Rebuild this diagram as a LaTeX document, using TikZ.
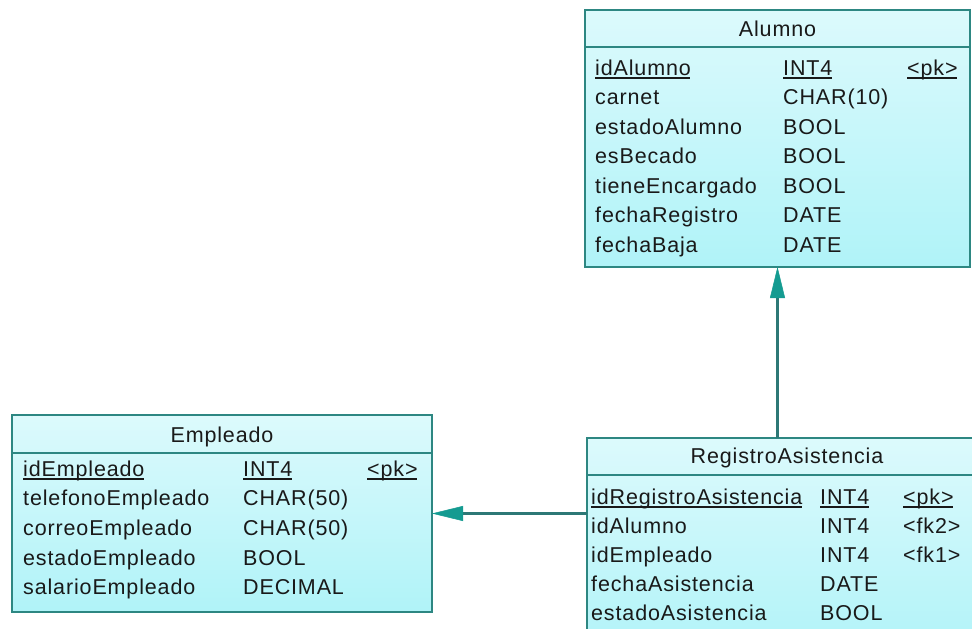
\documentclass[tikz,border=0pt]{standalone}
\usepackage{fontspec}
\setmainfont{Liberation Sans}[LetterSpace=4]
\usetikzlibrary{arrows.meta}
\definecolor{bord}{RGB}{45,135,130}
\definecolor{shaft}{RGB}{45,120,118}
\definecolor{arr}{RGB}{20,155,145}
\definecolor{fillT}{RGB}{220,250,252}
\definecolor{fillB}{RGB}{176,243,248}
\definecolor{ink}{RGB}{25,25,25}
\tikzset{
  tbl/.style={draw=bord, line width=1.8pt, top color=fillT, bottom color=fillB, inner sep=0pt, outer sep=0pt, rectangle},
  hdr/.style={draw=bord, line width=1.8pt},
  txt/.style={inner sep=0pt, anchor=base west, font=\fontsize{21.5}{25}\selectfont, text=ink},
  ttl/.style={inner sep=0pt, anchor=base, font=\fontsize{21.5}{25}\selectfont, text=ink},
  ul/.style={draw=ink, line width=1.2pt},
  fk/.style={draw=shaft, line width=2.2pt, -{Triangle[length=31pt,width=15pt,color=arr,fill=arr,line width=0.5pt]}}
}
\begin{document}
\begin{tikzpicture}[x=1pt,y=-1pt]
\clip (0,0) rectangle (972,629);
\fill[white] (0,0) rectangle (972,629);
% tables
\node[tbl, minimum width=385pt, minimum height=257pt] (alumno) at (777.5,138.5) {};
\node[tbl, minimum width=420pt, minimum height=197pt] (emp) at (222,513.5) {};
\node[tbl, minimum width=401pt, minimum height=220pt] (reg) at (787.5,548) {};
% header separators
\draw[hdr] (alumno.west |- 0,47) -- (alumno.east |- 0,47);
\draw[hdr] (emp.west |- 0,453) -- (emp.east |- 0,453);
\draw[hdr] (reg.west |- 0,475) -- (reg.east |- 0,475);
% titles
\node[ttl] (tA) at (777.5,36) {Alumno};
\node[ttl] (tE) at (222,442) {Empleado};
\node[ttl] (tR) at (787,463) {RegistroAsistencia};
% Alumno rows
\node[txt] (a1n) at (595,75) {idAlumno};
\node[txt] (a1t) at (783,75) {INT4};
\node[txt] (a1k) at (907,75) {<pk>};
\node[txt] (a2n) at (595,104.5) {carnet};
\node[txt] (a2t) at (783,104.5) {CHAR(10)};
\node[txt] (a3n) at (595,134) {estadoAlumno};
\node[txt] (a3t) at (783,134) {BOOL};
\node[txt] (a4n) at (595,163.5) {esBecado};
\node[txt] (a4t) at (783,163.5) {BOOL};
\node[txt] (a5n) at (595,193) {tieneEncargado};
\node[txt] (a5t) at (783,193) {BOOL};
\node[txt] (a6n) at (595,222.5) {fechaRegistro};
\node[txt] (a6t) at (783,222.5) {DATE};
\node[txt] (a7n) at (595,252) {fechaBaja};
\node[txt] (a7t) at (783,252) {DATE};
% Empleado rows
\node[txt] (e1n) at (23,476) {idEmpleado};
\node[txt] (e1t) at (243,476) {INT4};
\node[txt] (e1k) at (367,476) {<pk>};
\node[txt] (e2n) at (23,505.7) {telefonoEmpleado};
\node[txt] (e2t) at (243,505.7) {CHAR(50)};
\node[txt] (e3n) at (23,535.4) {correoEmpleado};
\node[txt] (e3t) at (243,535.4) {CHAR(50)};
\node[txt] (e4n) at (23,565.1) {estadoEmpleado};
\node[txt] (e4t) at (243,565.1) {BOOL};
\node[txt] (e5n) at (23,594.8) {salarioEmpleado};
\node[txt] (e5t) at (243,594.8) {DECIMAL};
% Registro rows
\node[txt] (r1n) at (591,504) {idRegistroAsistencia};
\node[txt] (r1t) at (820,504) {INT4};
\node[txt] (r1k) at (903,504) {<pk>};
\node[txt] (r2n) at (591,533) {idAlumno};
\node[txt] (r2t) at (820,533) {INT4};
\node[txt] (r2k) at (903,533) {<fk2>};
\node[txt] (r3n) at (591,562) {idEmpleado};
\node[txt] (r3t) at (820,562) {INT4};
\node[txt] (r3k) at (903,562) {<fk1>};
\node[txt] (r4n) at (591,591) {fechaAsistencia};
\node[txt] (r4t) at (820,591) {DATE};
\node[txt] (r5n) at (591,620) {estadoAsistencia};
\node[txt] (r5t) at (820,620) {BOOL};
% underlines for primary keys
\foreach \n in {a1n,a1t,a1k,e1n,e1t,e1k,r1n,r1t,r1k}{
  \draw[ul] ([yshift=-3pt]\n.base west) -- ([yshift=-3pt,xshift=-0.8pt]\n.base east);
}
% references
\draw[fk] (reg.north -| alumno.south) -- (alumno.south);
\draw[fk] (reg.west |- emp.east) -- (emp.east);
\end{tikzpicture}
\end{document}
